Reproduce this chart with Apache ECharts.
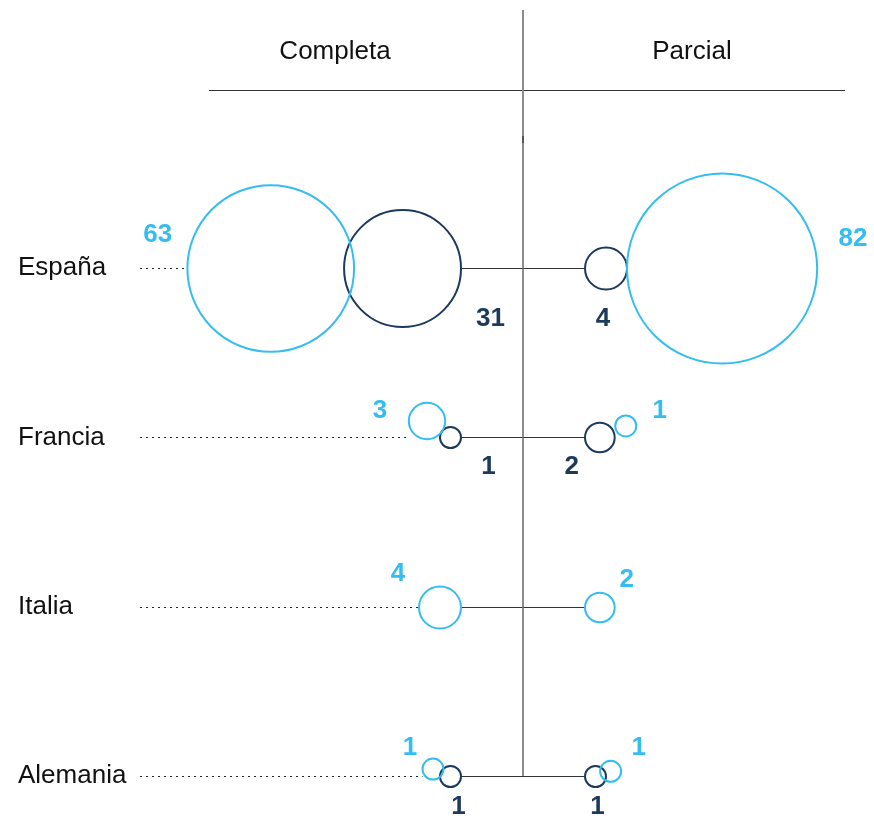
<!DOCTYPE html>
<html>
<head>
<meta charset="utf-8">
<style>
  html, body { margin: 0; padding: 0; background: #fff; }
  #chart_container { width: 874px; height: 822px; }
</style>
<script src="https://cdn.jsdelivr.net/npm/echarts@6/dist/echarts.min.js"></script>
</head>
<body>
<div id="chart_container"></div>
<script>
// data
var paises = ["España", "Francia", "Italia", "Alemania"];
var completaClaro = [63, 3, 4, 1];
var completaOscuro = [31, 1, 0, 1];
var parcialOscuro = [4, 2, 0, 1];
var parcialClaro = [82, 1, 2, 1];
var columnas = ["Completa", "Parcial"];

var AZUL = "#35bdf0";
var MARINO = "#1c3a5c";
var FUENTE = '"Liberation Sans", Arial, sans-serif';

// layout: radius per unit (area-proportional), gap from centre line
var R_UNIT = 10.5;
var GAP = 62;
// outer bubble placement per row: [angle deg, extra gap px]
var tiltIzq = [[0, -10], [35, 0], [0, 0], [23, -2]];
var tiltDer = [[0, 0], [24, 3], [0, 0], [19, -5]];
// label nudges from bubble centre
var lblClaroIzq = [[-113, -34], [-47, -10], [-42, -34], [-23, -21]];
var lblClaroDer = [[131, -30], [34, -15], [27, -28], [28, -23]];
var lblOscuroIzq = [[88, 50], [38, 29], [0, 0], [8, 30]];
var lblOscuroDer = [[-3, 50], [-28, 29], [0, 0], [2, 30]];

function radio(v) {
  return R_UNIT * Math.sqrt(v);
}

var dom = document.getElementById("chart_container");
var myChart = echarts.init(dom, null, { renderer: "canvas" });

function circulo(x, y, r, color) {
  return {
    type: "circle",
    shape: { cx: x, cy: y, r: r },
    style: { fill: "rgba(0,0,0,0)", stroke: color, lineWidth: 2 },
  };
}

function etiqueta(x, y, txt, color) {
  return {
    type: "text",
    x: x,
    y: y,
    style: {
      text: String(txt),
      fill: color,
      font: "bold 26px " + FUENTE,
      align: "center",
      verticalAlign: "middle",
    },
  };
}

function renderItem(params, api) {
  var row = api.value(0);
  var p = api.coord([0, row]);
  var cx = p[0];
  var cy = Math.round(p[1]) + 0.5;
  var kids = [];

  // centre line
  var yPrev = row === 0 ? 10 : Math.round(api.coord([0, row - 1])[1]) + 0.5;
  kids.push({
    type: "line",
    shape: { x1: cx, y1: yPrev, x2: cx, y2: cy },
    style: { stroke: "#8c8c8c", lineWidth: 2 },
  });

  // connector between inner bubbles
  kids.push({
    type: "line",
    shape: { x1: cx - GAP, y1: cy, x2: cx + GAP, y2: cy },
    style: { stroke: "#333", lineWidth: 1 },
  });

  var lados = [
    { s: -1, claro: api.value(1), oscuro: api.value(2), tilt: tiltIzq[row], lc: lblClaroIzq[row], lo: lblOscuroIzq[row] },
    { s: 1, claro: api.value(4), oscuro: api.value(3), tilt: tiltDer[row], lc: lblClaroDer[row], lo: lblOscuroDer[row] },
  ];

  var bordeIzq = cx;
  lados.forEach(function (l) {
    var cxClaro, cyClaro;
    var rClaro = radio(l.claro);
    if (l.oscuro > 0) {
      var rOsc = radio(l.oscuro);
      var xOsc = cx + l.s * (GAP + rOsc);
      kids.push(circulo(xOsc, cy, rOsc, MARINO));
      kids.push(etiqueta(xOsc + l.lo[0], cy + l.lo[1], l.oscuro, MARINO));
      var d = rOsc + rClaro + l.tilt[1];
      var a = (l.tilt[0] * Math.PI) / 180;
      cxClaro = xOsc + l.s * d * Math.cos(a);
      cyClaro = cy - d * Math.sin(a);
    } else {
      cxClaro = cx + l.s * (GAP + rClaro);
      cyClaro = cy;
    }
    kids.push(circulo(cxClaro, cyClaro, rClaro, AZUL));
    kids.push(etiqueta(cxClaro + l.lc[0], cyClaro + l.lc[1], l.claro, AZUL));
    if (l.s < 0) bordeIzq = cxClaro - rClaro;
  });

  // dotted guide from country name
  kids.unshift({
    type: "line",
    shape: { x1: params.coordSys.x + 140, y1: cy, x2: bordeIzq, y2: cy },
    style: { stroke: "#222", lineWidth: 1, lineDash: [2, 4] },
  });

  return { type: "group", children: kids };
}

var datos = paises.map(function (p, i) {
  return [i, completaClaro[i], completaOscuro[i], parcialOscuro[i], parcialClaro[i]];
});

var option = {
  animation: false,
  grid: { left: 0, right: 0, top: 268, bottom: 46 },
  xAxis: { type: "value", min: -523, max: 351, show: false },
  yAxis: {
    type: "category",
    data: paises,
    inverse: true,
    boundaryGap: false,
    axisLine: { show: false },
    axisTick: { show: false },
    splitLine: { show: false },
    axisLabel: {
      inside: true,
      margin: 18,
      fontSize: 26,
      color: "#111",
      fontFamily: FUENTE,
    },
  },
  graphic: [
    {
      type: "line",
      shape: { x1: 209, y1: 90.5, x2: 845, y2: 90.5 },
      style: { stroke: "#333", lineWidth: 1 },
    },
    {
      type: "line",
      shape: { x1: 523, y1: 136, x2: 523, y2: 143 },
      style: { stroke: "#555", lineWidth: 2 },
      z: 10,
    },
    {
      type: "text",
      x: 335,
      y: 52,
      style: { text: columnas[0], fill: "#111", font: "26px " + FUENTE, align: "center", verticalAlign: "middle" },
    },
    {
      type: "text",
      x: 692,
      y: 52,
      style: { text: columnas[1], fill: "#111", font: "26px " + FUENTE, align: "center", verticalAlign: "middle" },
    },
  ],
  series: [
    {
      type: "custom",
      renderItem: renderItem,
      data: datos,
      encode: { x: -1, y: 0 },
      clip: false,
    },
  ],
};

myChart.setOption(option);
window.addEventListener("resize", myChart.resize);
</script>
</body>
</html>
